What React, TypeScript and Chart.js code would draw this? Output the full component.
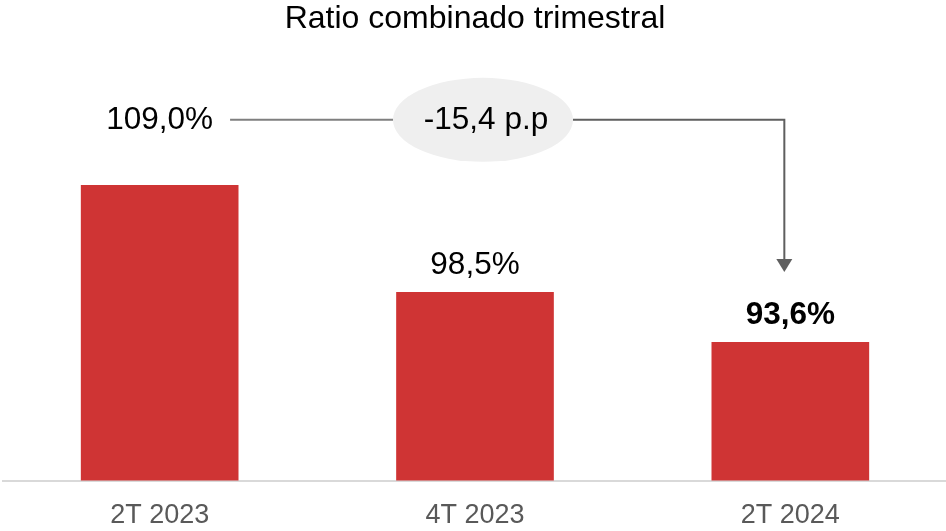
import React, { useEffect, useRef } from "react";
import { Chart, registerables } from "chart.js";

Chart.register(...registerables);

const chartTitle = "Ratio combinado trimestral";
const categories = ["2T 2023", "4T 2023", "2T 2024"];
const ratios = [109.0, 98.5, 93.6];
const valueLabels = ["109,0%", "98,5%", "93,6%"];
const deltaLabel = "-15,4 p.p";
const yRange = [80, 120];
const bracketLevel = 115.4;

const FONT = "'Liberation Sans', Arial, sans-serif";
const BAR_RED = "#cf3434";

const annotationPlugin = {
  id: "annotations",
  afterDatasetsDraw(chart: any) {
    const ctx = chart.ctx;
    const area = chart.chartArea;
    const yScale = chart.scales.y;
    const bars = chart.getDatasetMeta(0).data;
    ctx.save();

    // title
    ctx.fillStyle = "#000000";
    ctx.font = `32px ${FONT}`;
    ctx.textAlign = "center";
    ctx.textBaseline = "middle";
    ctx.fillText(chartTitle, (area.left + area.right) / 2, 19);

    const lineY = yScale.getPixelForValue(bracketLevel);

    // value labels
    bars.forEach((bar: any, i: number) => {
      const last = i === bars.length - 1;
      ctx.font = `${last ? "bold " : ""}31.5px ${FONT}`;
      ctx.fillStyle = "#000000";
      const y = i === 0 ? lineY : bar.y - 27;
      ctx.fillText(valueLabels[i], bar.x, y);
    });

    // first label width
    ctx.font = `31.5px ${FONT}`;
    const w0 = ctx.measureText(valueLabels[0]).width;
    const leftStart = bars[0].x + w0 / 2 + 17;

    const ex = bars[1].x + 8;
    const rx = 90;
    const ry = 42;

    // left connector
    ctx.strokeStyle = "#7f7f7f";
    ctx.lineWidth = 2;
    ctx.beginPath();
    ctx.moveTo(leftStart, lineY);
    ctx.lineTo(ex - rx, lineY);
    ctx.stroke();

    // ellipse
    ctx.fillStyle = "#efefef";
    ctx.beginPath();
    ctx.ellipse(ex, lineY, rx, ry, 0, 0, Math.PI * 2);
    ctx.fill();

    ctx.fillStyle = "#000000";
    ctx.font = `31.5px ${FONT}`;
    ctx.fillText(deltaLabel, ex + 3, lineY);

    // right connector with arrow
    const ax = bars[2].x - 6;
    const tipY = bars[2].y - 70;
    const headH = 13;
    const headW = 8;
    ctx.strokeStyle = "#5f5f5f";
    ctx.lineWidth = 2;
    ctx.beginPath();
    ctx.moveTo(ex + rx, lineY);
    ctx.lineTo(ax, lineY);
    ctx.lineTo(ax, tipY - headH);
    ctx.stroke();
    ctx.fillStyle = "#5f5f5f";
    ctx.beginPath();
    ctx.moveTo(ax - headW, tipY - headH);
    ctx.lineTo(ax + headW, tipY - headH);
    ctx.lineTo(ax, tipY);
    ctx.closePath();
    ctx.fill();

    ctx.restore();
  },
};

export default function App() {
  const canvasRef = useRef<HTMLCanvasElement | null>(null);

  useEffect(() => {
    if (!canvasRef.current) return;
    const chart = new Chart(canvasRef.current, {
      type: "bar",
      data: {
        labels: categories,
        datasets: [
          {
            data: ratios,
            backgroundColor: BAR_RED,
            borderWidth: 0,
            categoryPercentage: 1,
            barPercentage: 0.5,
          },
        ],
      },
      options: {
        responsive: false,
        animation: false,
        devicePixelRatio: 1,
        layout: { padding: { top: 73, bottom: 3, left: 0, right: 0 } },
        plugins: {
          legend: { display: false },
          tooltip: { enabled: false },
          title: { display: false },
        },
        scales: {
          x: {
            grid: { display: false, drawTicks: false },
            border: { display: true, color: "#d9d9d9", width: 2 },
            ticks: {
              color: "#595959",
              font: { family: FONT, size: 27 },
              padding: 19,
            },
          },
          y: {
            display: false,
            min: yRange[0],
            max: yRange[1],
          },
        },
      },
      plugins: [annotationPlugin],
    });
    return () => chart.destroy();
  }, []);

  return (
    <div
      style={{
        position: "fixed",
        left: 2,
        top: 0,
        width: 946,
        height: 531,
        overflow: "hidden",
        background: "#ffffff",
      }}
    >
      <canvas ref={canvasRef} width={946} height={554} style={{ display: "block" }} />
    </div>
  );
}
